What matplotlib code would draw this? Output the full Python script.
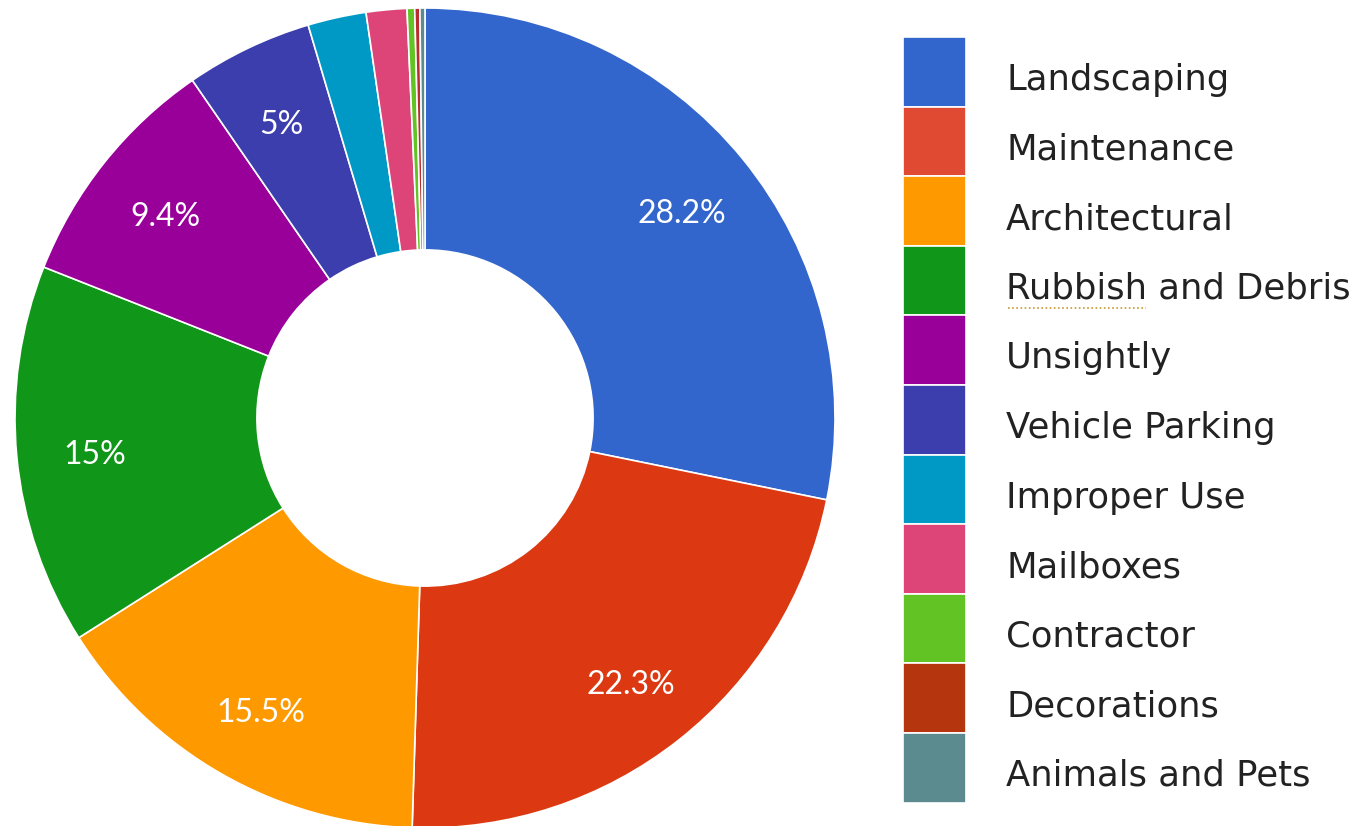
import matplotlib.pyplot as plt
from matplotlib.patches import Rectangle
import numpy as np

# data
categories = ["Landscaping", "Maintenance", "Architectural", "Rubbish and Debris",
              "Unsightly", "Vehicle Parking", "Improper Use", "Mailboxes",
              "Contractor", "Decorations", "Animals and Pets"]
shares = [28.2, 22.3, 15.5, 15.0, 9.4, 5.0, 2.3, 1.6, 0.3, 0.2, 0.2]
pct_text = ["28.2%", "22.3%", "15.5%", "15%", "9.4%", "5%", "", "", "", "", ""]
colors = ["#3366CC", "#DC3912", "#FF9900", "#109618", "#990099", "#3B3EAC",
          "#0099C6", "#DD4477", "#62C424", "#B82E2E", "#5B8A8F"]
legend_colors = ["#3366CC", "#E04A33", "#FF9900", "#109618", "#990099", "#3B3EAC",
                 "#0099C6", "#DD4477", "#62C424", "#B5350F", "#5B8A8F"]

W, H = 1359, 826
fig = plt.figure(figsize=(W / 100, H / 100), dpi=100)

# pie axes: center (425, 418) px, radius 410 px
cx, cy, R = 425, 418, 410
ax = fig.add_axes([(cx - R) / W, (H - cy - R) / H, 2 * R / W, 2 * R / H])

wedges, _ = ax.pie(shares, colors=colors, startangle=90, counterclock=False,
                   radius=1, wedgeprops=dict(width=0.59, edgecolor="white", linewidth=1.2))
ax.set_xlim(-1, 1)
ax.set_ylim(-1, 1)
ax.set_aspect("equal")
ax.axis("off")

# percentage labels
for w, t in zip(wedges, pct_text):
    if not t:
        continue
    ang = np.deg2rad((w.theta1 + w.theta2) / 2)
    ax.text(0.81 * np.cos(ang), 0.81 * np.sin(ang) - 0.015, t, color="white",
            fontsize=23, family="Lato", ha="center", va="center")

# legend drawn by hand
box_x, box_w = 903, 63
top, step = 37, 69.6
for i, (name, c) in enumerate(zip(categories, legend_colors)):
    y0 = top + i * step
    fig.patches.append(Rectangle((box_x / W, 1 - (y0 + step) / H), box_w / W, step / H,
                                 transform=fig.transFigure, facecolor=c,
                                 edgecolor="white", linewidth=1.2))
    fig.text(1006 / W, 1 - (y0 + 53) / H, name, fontsize=25.5,
             family="DejaVu Sans", color="#222222", va="baseline", ha="left")

# dotted spell-check underline under "Rubbish"
yl = 1 - (top + 3 * step + 62) / H
fig.lines.append(plt.Line2D([1008 / W, 1146 / W], [yl, yl], transform=fig.transFigure,
                            color="#C8962E", linestyle=(0, (1, 1.5)), linewidth=1.2))

fig.savefig("out.png", dpi=100)
